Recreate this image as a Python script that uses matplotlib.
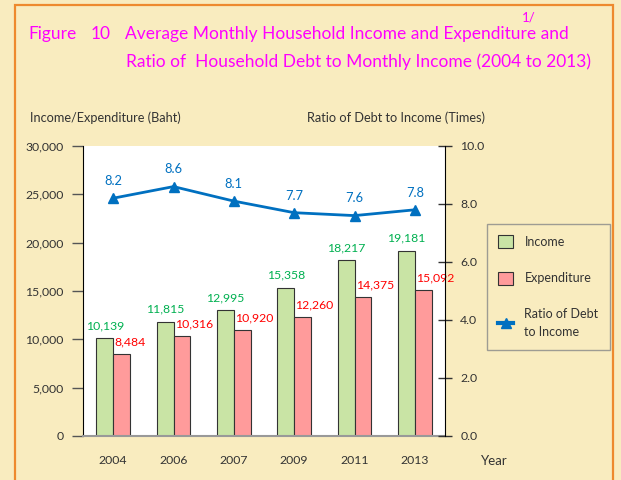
import numpy as np
import matplotlib

matplotlib.use("Agg")
import matplotlib.pyplot as plt
from matplotlib.patches import Rectangle
from matplotlib.lines import Line2D

plt.rcParams["font.family"] = ["Lato", "DejaVu Sans"]

years = ["2004", "2006", "2007", "2009", "2011", "2013"]
income = [10139, 11815, 12995, 15358, 18217, 19181]
expenditure = [8484, 10316, 10920, 12260, 14375, 15092]
debt_ratio = [8.2, 8.6, 8.1, 7.7, 7.6, 7.8]

BG = "#F9ECBF"
GREEN = "#C9E4A5"
RED = "#FF9B9B"
BLUE = "#0070C0"
TXT = "#333333"
MAGENTA = "#FF00FF"

fig = plt.figure(figsize=(6.21, 4.80), dpi=100, facecolor=BG)
W, H = 621, 480

# orange page frame
fig.patches.append(Rectangle((15 / W, -0.05), 598 / W, 1 - 5 / H + 0.05,
                             transform=fig.transFigure, fill=False,
                             edgecolor="#EE8A2E", linewidth=1.6))

ax = fig.add_axes([83 / W, 44 / H, 362 / W, 290 / H])
ax.set_facecolor("white")
x = np.arange(len(years))
bw = 0.28
ax.bar(x - bw / 2, income, bw, color=GREEN, edgecolor="#333333", linewidth=0.8, zorder=2)
ax.bar(x + bw / 2, expenditure, bw, color=RED, edgecolor="#333333", linewidth=0.8, zorder=2)
ax.set_xlim(-0.5, len(years) - 0.5)
ax.set_ylim(0, 30000)
ax.set_yticks(range(0, 30001, 5000))
ax.set_yticklabels([f"{v:,}" for v in range(0, 30001, 5000)])
ax.set_xticks(x)
ax.set_xticklabels(years)
ax.tick_params(axis="x", length=0, pad=14, labelsize=8.8, labelcolor=TXT)
ax.tick_params(axis="y", direction="out", length=8, width=1, color="#555555",
               labelsize=8.8, labelcolor=TXT, pad=6)
ax.spines["top"].set_visible(False)
ax.spines["right"].set_visible(False)
ax.spines["left"].set_color("black")
ax.spines["bottom"].set_color("#999999")
ax.spines["bottom"].set_linewidth(1.5)

for i, (a, b) in enumerate(zip(income, expenditure)):
    ax.annotate(f"{a:,}", (i - bw / 2, a), xytext=(0, 5), textcoords="offset points",
                ha="center", va="bottom", color="#00B050", fontsize=8.8)
    ax.annotate(f"{b:,}", (i + 0.02, b), xytext=(0, 5), textcoords="offset points",
                ha="left", va="bottom", color="#FF0000", fontsize=8.8)

ax2 = ax.twinx()
ax2.plot(x, debt_ratio, color=BLUE, linewidth=2, marker="^", markersize=7, zorder=3)
ax2.set_ylim(0, 10)
ax2.set_yticks(np.arange(0, 10.1, 2))
ax2.set_yticklabels([f"{v:.1f}" for v in np.arange(0, 10.1, 2)])
ax2.tick_params(axis="y", direction="inout", length=10, width=1, color="#333333",
                labelsize=8.8, labelcolor=TXT, pad=6)
for s in ["top", "left", "bottom"]:
    ax2.spines[s].set_visible(False)
ax2.spines["right"].set_color("black")
for i, r in enumerate(debt_ratio):
    ax2.annotate(f"{r:.1f}", (i, r), xytext=(0, 8), textcoords="offset points",
                 ha="center", va="bottom", color=BLUE, fontsize=9.3)

# titles and axis captions
tkw = dict(color=MAGENTA, fontsize=12.5, va="center", ha="left")
fig.text(28 / W, 1 - 34 / H, "Figure", **tkw)
fig.text(91 / W, 1 - 34 / H, "10", **tkw)
fig.text(125 / W, 1 - 34 / H, "Average Monthly Household Income and Expenditure and", **tkw)
fig.text(126 / W, 1 - 62 / H, "Ratio of  Household Debt to Monthly Income (2004 to 2013)", **tkw)
fig.text(522 / W, 1 - 17 / H, "1/", color=MAGENTA, fontsize=9.5, va="center", ha="left")
fig.text(30 / W, 1 - 118 / H, "Income/Expenditure (Baht)", color=TXT, fontsize=9.2,
         va="center", ha="left")
fig.text(307 / W, 1 - 118 / H, "Ratio of Debt to Income (Times)", color=TXT, fontsize=9.2,
         va="center", ha="left")
fig.text(481 / W, 1 - 461 / H, "Year", color=TXT, fontsize=9.5, va="center", ha="left")

handles = [
    Rectangle((0, 0), 1, 1, facecolor=GREEN, edgecolor="#333333", linewidth=0.8),
    Rectangle((0, 0), 1, 1, facecolor=RED, edgecolor="#333333", linewidth=0.8),
    Line2D([], [], color=BLUE, linewidth=3, marker="^", markersize=7),
]
leg = fig.legend(handles, ["Income", "Expenditure", "Ratio of Debt\nto Income"],
                 loc="upper left", bbox_to_anchor=(487 / W, 1 - 224 / H),
                 borderaxespad=0, frameon=True, fancybox=False, facecolor=BG,
                 edgecolor="#888888", fontsize=9, labelspacing=1.9,
                 handlelength=1.2, handleheight=1.2, borderpad=0.9,
                 handletextpad=0.9, labelcolor=TXT)
leg.get_frame().set_linewidth(1)
for t in leg.get_texts():
    t.set_linespacing(1.6)

fig.savefig("out.png", dpi=100, facecolor=BG)
